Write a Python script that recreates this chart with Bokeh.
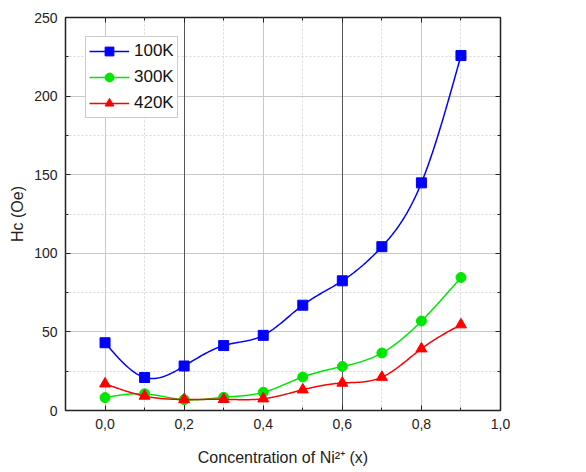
import numpy as np
from bokeh.plotting import figure
from bokeh.models import (LinearAxis, FixedTicker, CustomJSTickFormatter, Range1d,
                          Legend, LegendItem, Grid)
from bokeh.embed import file_html
from bokeh.resources import INLINE

x_conc = [0.0, 0.1, 0.2, 0.3, 0.4, 0.5, 0.6, 0.7, 0.8, 0.9]
hc_100k = [43.1, 21.0, 28.3, 41.3, 47.8, 67.0, 82.5, 104.2, 144.8, 225.8]
hc_300k = [8.2, 10.6, 6.9, 8.4, 11.6, 21.3, 28.0, 36.6, 56.9, 84.6]
hc_420k = [17.0, 9.2, 7.0, 7.1, 7.5, 13.2, 17.5, 21.2, 39.3, 54.6]
labels = ["100K", "300K", "420K"]
colors = ["#0000ff", "#00e600", "#ff0000"]
x_ticks = [0.0, 0.2, 0.4, 0.6, 0.8, 1.0]
x_minor = [-0.1, 0.1, 0.3, 0.5, 0.7, 0.9]
y_ticks = [0, 50, 100, 150, 200, 250]
y_minor = [25, 75, 125, 175, 225]


def natural_spline(xs, ys, n=400):
    xs = np.asarray(xs, float)
    ys = np.asarray(ys, float)
    m = len(xs)
    h = np.diff(xs)
    A = np.zeros((m, m))
    b = np.zeros(m)
    A[0, 0] = 1
    A[-1, -1] = 1
    for i in range(1, m - 1):
        A[i, i - 1] = h[i - 1]
        A[i, i] = 2 * (h[i - 1] + h[i])
        A[i, i + 1] = h[i]
        b[i] = 6 * ((ys[i + 1] - ys[i]) / h[i] - (ys[i] - ys[i - 1]) / h[i - 1])
    M = np.linalg.solve(A, b)
    xx = np.linspace(xs[0], xs[-1], n)
    idx = np.clip(np.searchsorted(xs, xx) - 1, 0, m - 2)
    x0, x1 = xs[idx], xs[idx + 1]
    hh = x1 - x0
    t0 = x1 - xx
    t1 = xx - x0
    yy = (M[idx] * t0 ** 3 / (6 * hh) + M[idx + 1] * t1 ** 3 / (6 * hh)
          + (ys[idx] / hh - M[idx] * hh / 6) * t0
          + (ys[idx + 1] / hh - M[idx + 1] * hh / 6) * t1)
    return xx, yy


FONT = "Liberation Sans"

p = figure(frame_width=435, frame_height=393, output_backend="svg",
           toolbar_location=None, x_range=Range1d(-0.1, 1.0), y_range=Range1d(0, 250),
           min_border_left=65, min_border_right=86, min_border_top=17, min_border_bottom=62,
           background_fill_color="white", border_fill_color="white")
p.outline_line_color = "#222222"
p.outline_line_width = 1.5

fmt = CustomJSTickFormatter(code="return tick.toFixed(1).replace('.', ',');")
blank = CustomJSTickFormatter(code="return '';")

for ax in (p.xaxis[0], p.yaxis[0]):
    ax.major_label_text_font = FONT
    ax.major_label_text_font_size = "14px"
    ax.major_label_text_color = "#222222"
    ax.axis_label_text_font = FONT
    ax.axis_label_text_font_size = "16px"
    ax.axis_label_text_font_style = "normal"
    ax.axis_label_text_color = "#222222"
    ax.axis_line_color = None
    ax.major_tick_line_color = "#222222"
    ax.minor_tick_line_color = "#222222"
    ax.major_tick_out = 0
    ax.major_tick_in = 5
    ax.minor_tick_out = 0
    ax.minor_tick_in = 3
    ax.major_label_standoff = 8

p.xaxis[0].ticker = FixedTicker(ticks=x_ticks, minor_ticks=x_minor)
p.xaxis[0].formatter = fmt
p.xaxis[0].axis_label = "Concentration of Ni\u00b2\u207a (x)"
p.xaxis[0].axis_label_standoff = 17
p.yaxis[0].ticker = FixedTicker(ticks=y_ticks, minor_ticks=y_minor)
p.yaxis[0].axis_label = "Hc (Oe)"
p.yaxis[0].axis_label_standoff = 5

for loc, tk in (("right", FixedTicker(ticks=y_ticks, minor_ticks=y_minor)),
                ("above", FixedTicker(ticks=x_ticks, minor_ticks=x_minor))):
    ax = LinearAxis(ticker=tk, formatter=blank, axis_line_color=None,
                    major_tick_line_color="#222222", minor_tick_line_color="#222222",
                    major_tick_in=5, major_tick_out=0, minor_tick_in=3, minor_tick_out=0,
                    major_label_standoff=0)
    p.add_layout(ax, loc)

p.xgrid.ticker = FixedTicker(ticks=x_ticks, minor_ticks=x_minor)
p.ygrid.ticker = FixedTicker(ticks=y_ticks, minor_ticks=y_minor)
for g in (p.xgrid[0], p.ygrid[0]):
    g.grid_line_color = "#c8c8c8"
    g.grid_line_width = 1
    g.minor_grid_line_color = "#d8d8d8"
    g.minor_grid_line_dash = "2 2"
    g.minor_grid_line_width = 1

dark = Grid(dimension=0, ticker=FixedTicker(ticks=[0.2, 0.6]), grid_line_color="#555555",
            grid_line_width=1)
p.add_layout(dark)

items = []
series = [hc_100k, hc_300k, hc_420k]
markers = ["square", "circle", "triangle"]
sizes = [10, 10, 11]
for lab, col, ys, mk, sz in zip(labels, colors, series, markers, sizes):
    xx, yy = natural_spline(x_conc, ys)
    r1 = p.line(xx, yy, line_color=col, line_width=1.5)
    r2 = p.scatter(x_conc, ys, marker=mk, size=sz, fill_color=col, line_color=col)
    items.append(LegendItem(label=lab, renderers=[r1, r2]))

leg = Legend(items=items, location=(20, 292), label_text_font=FONT,
             label_text_font_size="17px", label_text_color="#111111",
             glyph_width=40, glyph_height=22, label_height=22, spacing=4,
             padding=3, margin=0, label_standoff=5,
             border_line_color="#999999", border_line_width=1,
             background_fill_alpha=1.0)
p.add_layout(leg)

open("out.html", "w").write(file_html(p, INLINE))
